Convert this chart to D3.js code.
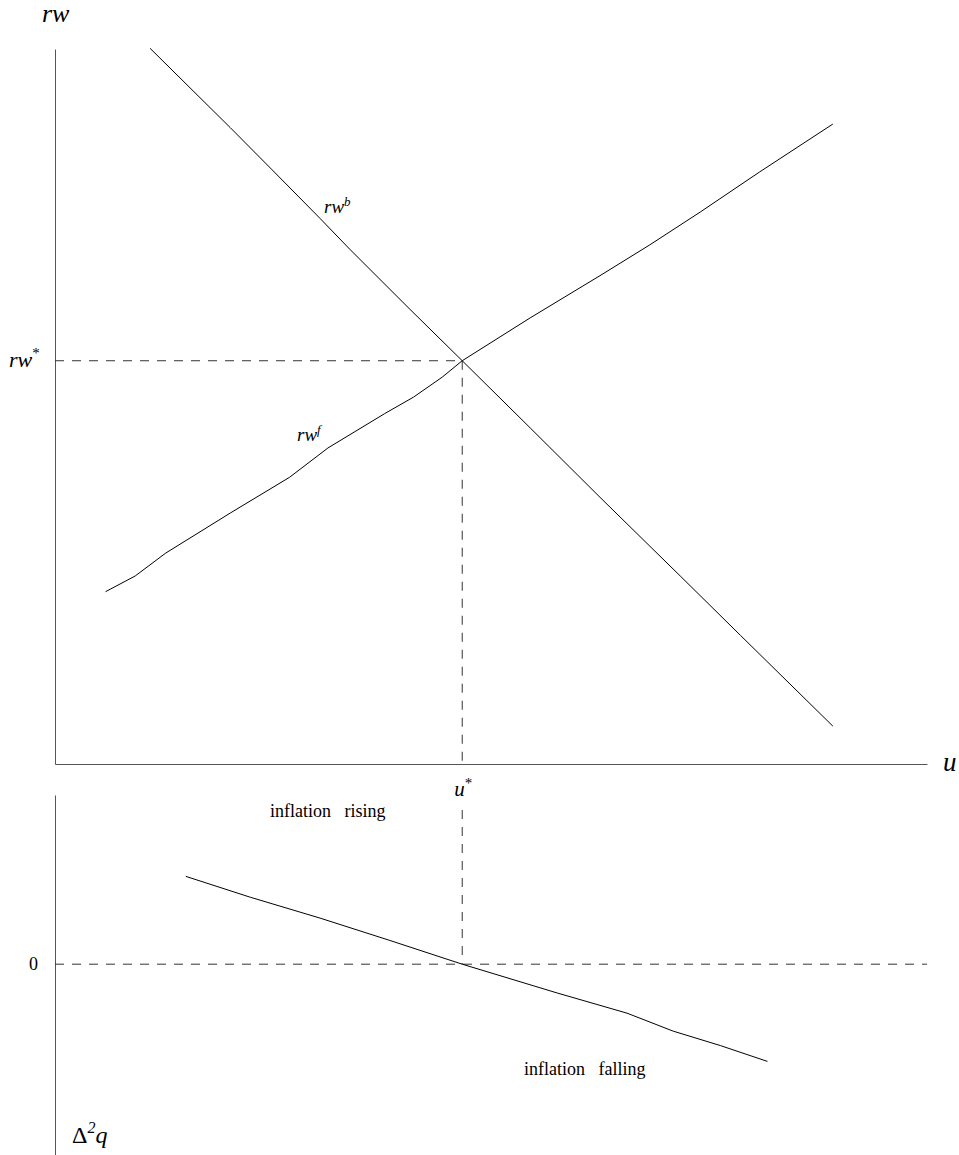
<!DOCTYPE html>
<html>
<head>
<meta charset="utf-8">
<script src="https://cdn.jsdelivr.net/npm/d3@7"></script>
<style>
  body { margin: 0; background: #fff; }
  text { font-family: "Liberation Serif", "Times New Roman", Times, serif; fill: #000; }
</style>
</head>
<body>
<div id="chart-container"></div>
<script>
// in diagram units (u: 0-100, rw: 0-100, d2q around 0)
const rwbU = [10.9, 20.1, 24.9, 30.4, 33.8, 40.7, 46.7, 54.5, 62.5, 71.7, 78.6, 89.2];
const rwbV = [100.1, 89.0, 83.1, 76.3, 72.0, 63.6, 56.4, 47.0, 37.3, 26.3, 18.0, 5.3];

const rwfU = [5.8, 9.2, 12.7, 20.1, 26.9, 31.3, 37.8, 41.1, 44.4, 46.7, 54.5, 62.5, 68.2, 74.0, 80.8, 89.2];
const rwfV = [24.1, 26.3, 29.5, 35.1, 40.1, 44.2, 49.0, 51.3, 54.1, 56.4, 62.4, 68.3, 72.6, 77.2, 82.8, 89.5];

const dqU = [15.0, 22.4, 30.4, 38.4, 46.7, 57.6, 65.6, 70.9, 76.3, 81.7];
const dqV = [12.2, 9.3, 6.4, 3.3, 0, -4.0, -6.8, -9.3, -11.3, -13.5];

const uStar = 46.7;
const rwStar = 56.4;

const width = 959, height = 1155;

const svg = d3.select("#chart-container")
    .append("svg")
    .attr("width", width)
    .attr("height", height);

// scales
const x = d3.scaleLinear().domain([0, 100]).range([55, 927]);
const yTop = d3.scaleLinear().domain([0, 100]).range([764, 49]);
const yBot = d3.scaleLinear().domain([-26.5, 23.5]).range([1155, 795]);

const axisColor = "#555";
const dash = "9,8";

// axes (domain lines only)
svg.append("g")
    .attr("transform", `translate(0,${yTop(0)})`)
    .call(d3.axisBottom(x).ticks(0).tickSizeOuter(0))
    .select(".domain").attr("stroke", axisColor);

svg.append("g")
    .attr("transform", `translate(${x(0)},0)`)
    .call(d3.axisLeft(yTop).ticks(0).tickSizeOuter(0))
    .select(".domain").attr("stroke", axisColor);

svg.append("g")
    .attr("transform", `translate(${x(0)},0)`)
    .call(d3.axisLeft(yBot).ticks(0).tickSizeOuter(0))
    .select(".domain").attr("stroke", axisColor);

// dashed guides
const guide = (x1, y1, x2, y2) => svg.append("line")
    .attr("x1", x1).attr("y1", y1).attr("x2", x2).attr("y2", y2)
    .attr("stroke", "#333").attr("stroke-width", 1)
    .attr("stroke-dasharray", dash);

guide(x(0), yTop(rwStar), x(uStar), yTop(rwStar));
guide(x(uStar), yTop(rwStar), x(uStar), yTop(0));
guide(x(uStar), 810, x(uStar), yBot(0));
guide(x(0), yBot(0), x(100), yBot(0));

// curves
const lineTop = d3.line().x(d => x(d[0])).y(d => yTop(d[1]));
const lineBot = d3.line().x(d => x(d[0])).y(d => yBot(d[1]));

svg.append("path")
    .datum(d3.zip(rwbU, rwbV))
    .attr("d", lineTop)
    .attr("fill", "none").attr("stroke", "#000").attr("stroke-width", 1);

svg.append("path")
    .datum(d3.zip(rwfU, rwfV))
    .attr("d", lineTop)
    .attr("fill", "none").attr("stroke", "#000").attr("stroke-width", 1);

svg.append("path")
    .datum(d3.zip(dqU, dqV))
    .attr("d", lineBot)
    .attr("fill", "none").attr("stroke", "#000").attr("stroke-width", 1);

// labels with superscripts
function supLabel(px, py, base, sup, size, italicSup) {
    const t = svg.append("text").attr("x", px).attr("y", py)
        .style("font-size", size + "px");
    t.append("tspan").style("font-style", "italic").text(base);
    t.append("tspan")
        .attr("dy", -size * 0.38)
        .style("font-size", Math.round(size * 0.7) + "px")
        .style("font-style", italicSup ? "italic" : "normal")
        .text(sup);
    return t;
}

svg.append("text").attr("x", 42).attr("y", 22)
    .style("font-size", "26px").style("font-style", "italic").text("rw");

svg.append("text").attr("x", 943).attr("y", 771)
    .style("font-size", "27px").style("font-style", "italic").text("u");

supLabel(9, yTop(rwStar) + 6, "rw", "*", 22, false);
supLabel(x(uStar) - 8, 796, "u", "*", 21, false);
supLabel(324, 213, "rw", "b", 19, true);
supLabel(297, 441, "rw", "f", 19, true);

svg.append("text").attr("x", 270).attr("y", 817)
    .style("font-size", "18px").style("word-spacing", "9px").text("inflation rising");

svg.append("text").attr("x", 524).attr("y", 1075)
    .style("font-size", "18px").style("word-spacing", "9px").text("inflation falling");

svg.append("text").attr("x", 29).attr("y", yBot(0) + 6)
    .style("font-size", "18px").text("0");

const dq = svg.append("text").attr("x", 72).attr("y", 1143).style("font-size", "24px");
dq.append("tspan").text("\u0394");
dq.append("tspan").attr("dy", -10).style("font-size", "16px").style("font-style", "italic").text("2");
dq.append("tspan").attr("dy", 10).style("font-style", "italic").text("q");
</script>
</body>
</html>
